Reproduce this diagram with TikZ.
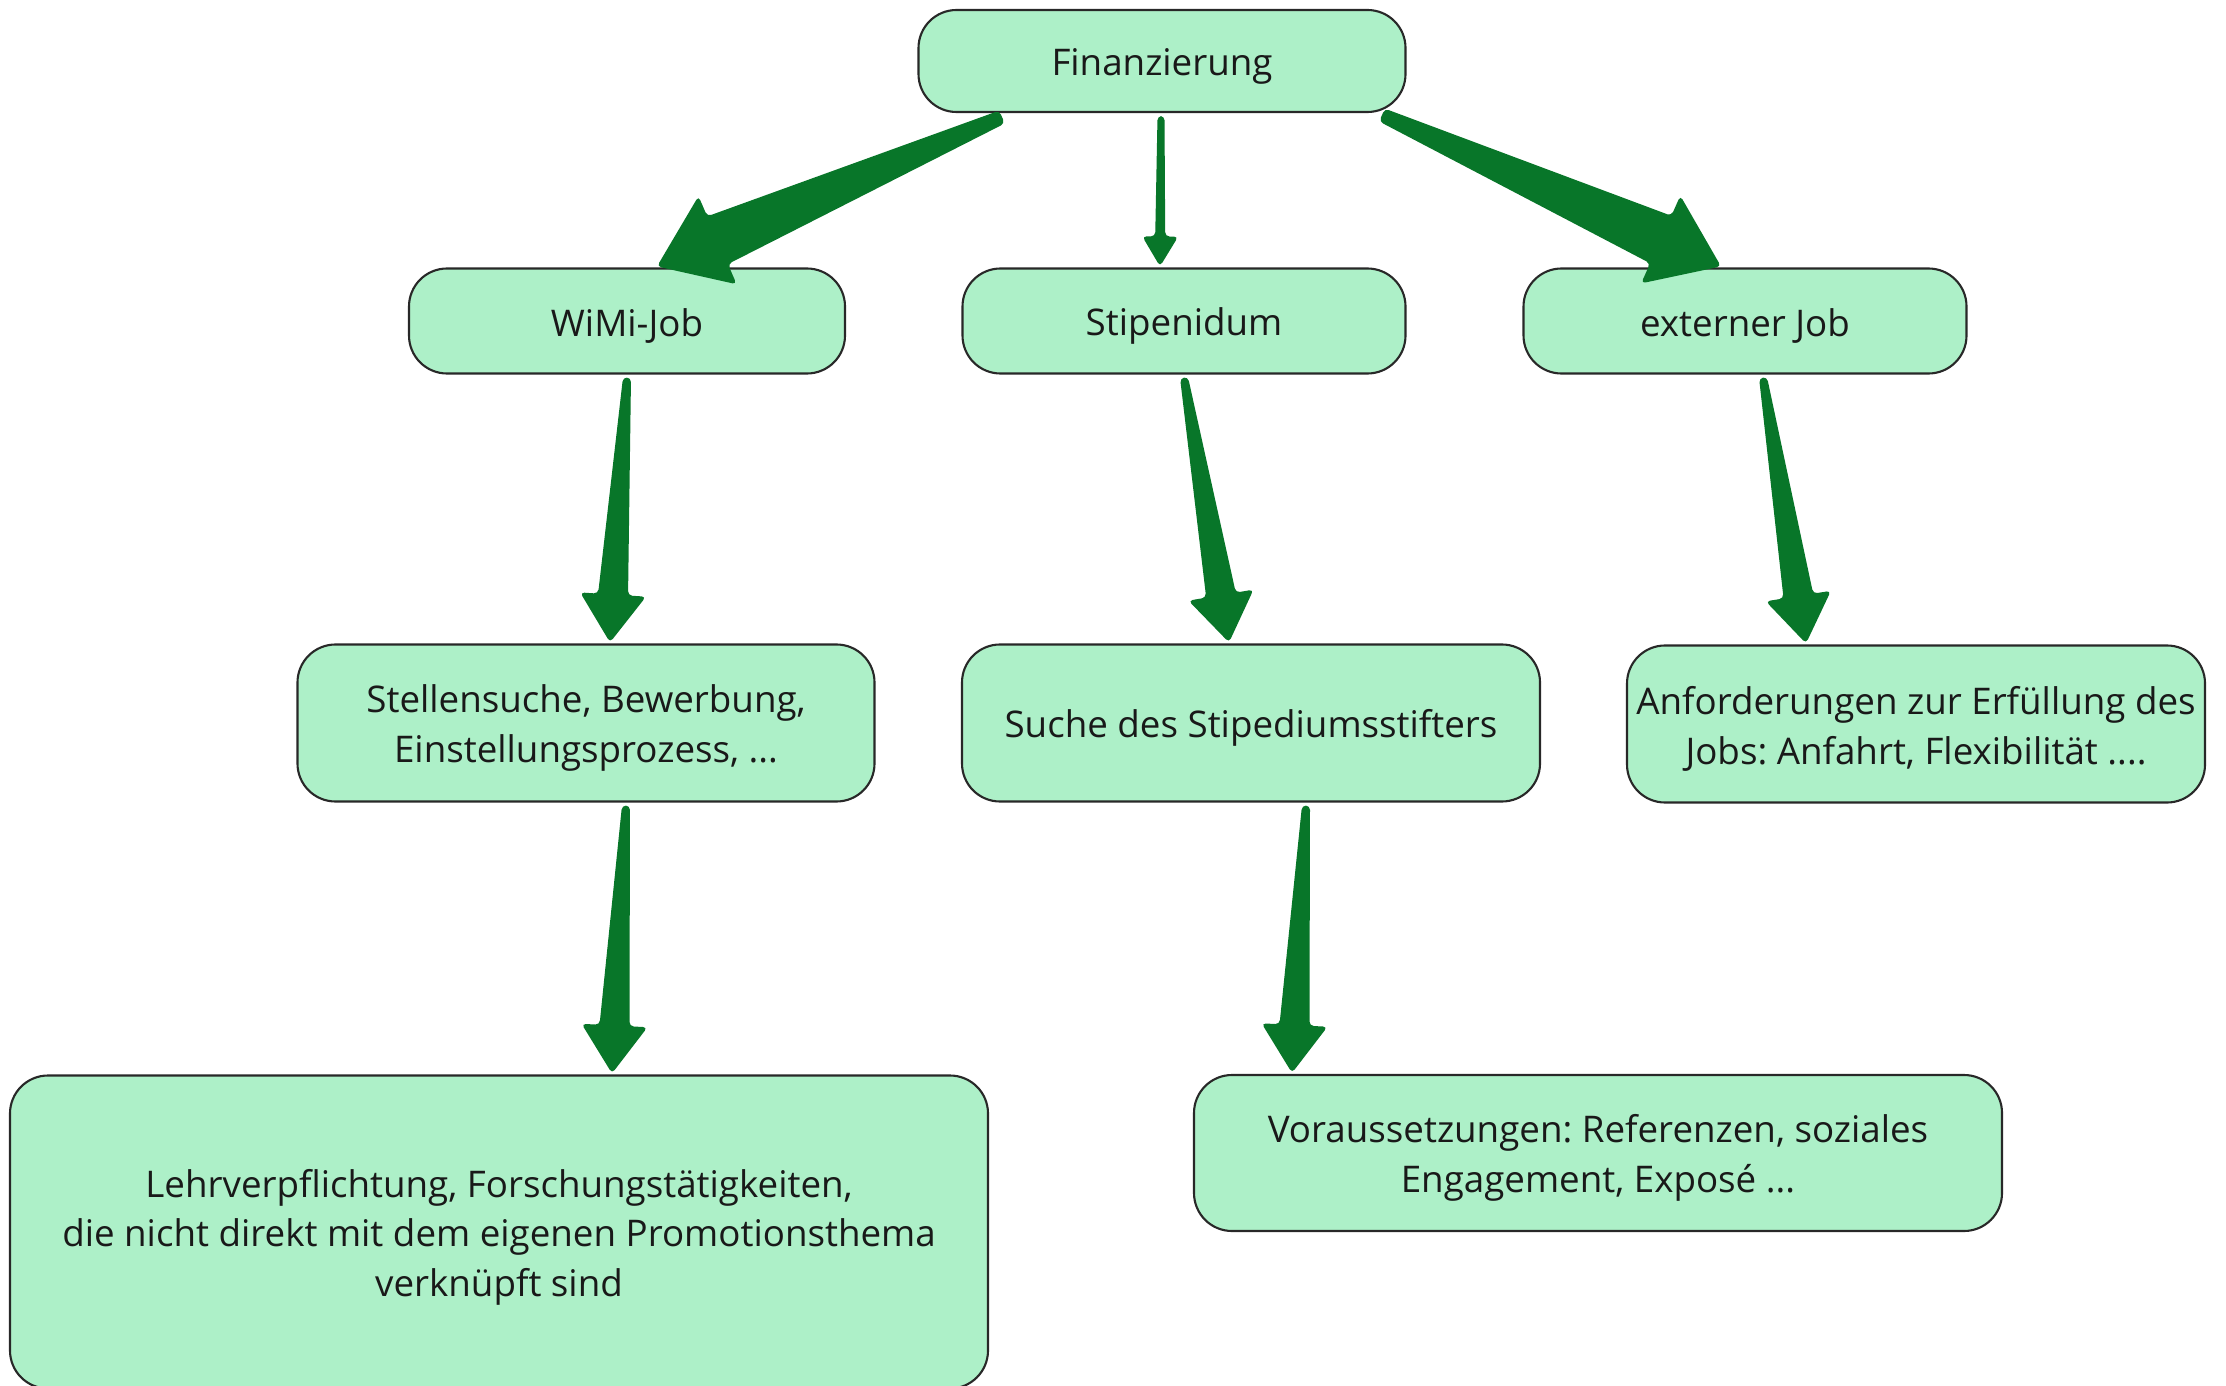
\documentclass[tikz,border=0pt]{standalone}
\usepackage{fontspec}
\setmainfont{Open Sans}
\usetikzlibrary{calc}
\frenchspacing

\definecolor{boxgreen}{RGB}{173,240,200}
\definecolor{arrowgreen}{RGB}{8,118,41}
\definecolor{edgegray}{RGB}{40,40,40}

\newcommand{\tallstrut}{\rule{0pt}{11pt}}

\tikzset{
  box/.style={draw=edgegray, line width=0.6pt, fill=boxgreen, rounded corners=0.38cm,
    align=center, inner sep=0pt, text=black!90, font=\fontsize{10.45}{14.2}\selectfont},
}

% tapered arrow: from, tip, half tail, half body, half head, head length
\newcommand{\taperarrow}[6]{%
  \coordinate (ta) at (#1);
  \coordinate (tb) at (#2);
  \coordinate (tc) at ($(tb)!#6!(ta)$);
  \fill[arrowgreen, rounded corners=1.2pt]
    ($(ta)!#3!90:(tb)$) -- ($(tc)!#4!90:(tb)$) -- ($(tc)!#5!90:(tb)$) -- (tb)
    -- ($(tc)!#5!-90:(tb)$) -- ($(tc)!#4!-90:(tb)$) -- ($(ta)!#3!-90:(tb)$) -- cycle;
}

\begin{document}
\begin{tikzpicture}
      \fill[white] (0, 0) rectangle (22.26, -13.86);
      \useasboundingbox (0, 0) rectangle (22.26, -13.86);
      % Nodes:
      \node[box, minimum width=4.87cm, minimum height=1.02cm](fin) at (11.62, -0.61){\tallstrut Finanzierung};
      \node[box, minimum width=4.36cm, minimum height=1.05cm](wimi) at (6.27, -3.21){\tallstrut WiMi-Job};
      \node[box, minimum width=4.43cm, minimum height=1.05cm](stip) at (11.84, -3.21){\tallstrut Stipenidum};
      \node[box, minimum width=4.43cm, minimum height=1.05cm](ext) at (17.45, -3.21){\tallstrut externer Job};
      \node[box, minimum width=5.77cm, minimum height=1.57cm](stell) at (5.86, -7.23){\tallstrut Stellensuche, Bewerbung,\\ Einstellungsprozess, ...};
      \node[box, minimum width=5.78cm, minimum height=1.57cm](such) at (12.51, -7.23){\tallstrut Suche des Stipediumsstifters};
      \node[box, minimum width=5.78cm, minimum height=1.57cm](anf) at (19.16, -7.24){\tallstrut Anforderungen zur Erfüllung des\\ Jobs: Anfahrt, Flexibilität ....};
      \node[box, minimum width=9.78cm, minimum height=3.13cm](lehr) at (4.99, -12.32){\tallstrut Lehrverpflichtung, Forschungstätigkeiten,\\ die nicht direkt mit dem eigenen Promotionsthema\\ verknüpft sind};
      \node[box, minimum width=8.08cm, minimum height=1.56cm](vor) at (15.98, -11.53){\tallstrut Voraussetzungen: Referenzen, soziales\\ Engagement, Exposé ...};
      % Arrows:
      \taperarrow{$(fin.south)+(-1.60, -0.04)$}{$(wimi.north)+(0.30, 0.01)$}{0.07cm}{0.26cm}{0.48cm}{0.66cm}
      \taperarrow{$(fin.south)+(-0.01, -0.03)$}{$(stip.north)+(-0.24, 0.01)$}{0.035cm}{0.05cm}{0.18cm}{0.30cm}
      \taperarrow{$(fin.south)+(2.20, -0.02)$}{$(ext.north)+(-0.24, 0.01)$}{0.07cm}{0.26cm}{0.48cm}{0.66cm}
      \taperarrow{$(wimi.south)+(0, -0.03)$}{$(stell.north)+(0.24, 0.01)$}{0.04cm}{0.15cm}{0.33cm}{0.48cm}
      \taperarrow{$(stip.south)+(0, -0.03)$}{$(such.north)+(-0.22, 0.01)$}{0.04cm}{0.15cm}{0.33cm}{0.48cm}
      \taperarrow{$(ext.south)+(0.18, -0.03)$}{$(anf.north)+(-1.10, 0.01)$}{0.04cm}{0.15cm}{0.33cm}{0.48cm}
      \taperarrow{$(stell.south)+(0.40, -0.03)$}{$(lehr.north)+(1.13, 0.01)$}{0.04cm}{0.15cm}{0.33cm}{0.48cm}
      \taperarrow{$(such.south)+(0.55, -0.03)$}{$(vor.north)+(-3.06, 0.01)$}{0.04cm}{0.15cm}{0.33cm}{0.48cm}
\end{tikzpicture}
\end{document}
